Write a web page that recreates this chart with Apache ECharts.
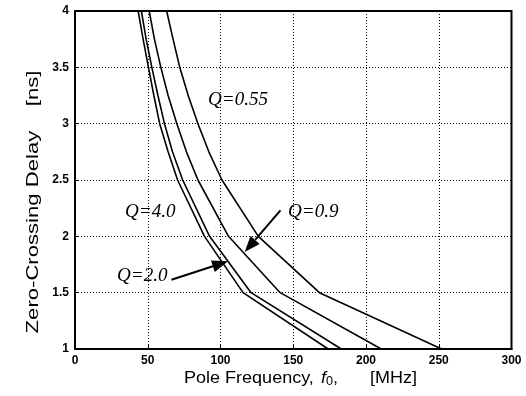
<!DOCTYPE html>
<html>
<head>
<meta charset="utf-8">
<script src="https://cdn.jsdelivr.net/npm/echarts@6/dist/echarts.min.js"></script>
<style>
html,body{margin:0;padding:0;background:#fff;}
#chart{width:526px;height:396px;}
</style>
</head>
<body>
<div id="chart"></div>
<script>
// Delay levels (ns) at which each curve's pole frequency was read
var delayLevels = [4, 3.75, 3.5, 3.25, 3, 2.75, 2.5, 2, 1.5, 1];
// Pole frequency (MHz) for each Q at those delays
var freqQ055 = [63, 67.4, 72, 77.8, 84.5, 92, 101, 126, 168, 252];
var freqQ09  = [51, 54.6, 59, 64, 70, 76.6, 84.5, 105.5, 141, 210.5];
var freqQ20  = [45.6, 48.9, 52.8, 57, 61.5, 67, 74, 92.5, 121, 183];
var freqQ40  = [43.4, 46.8, 50.5, 54.2, 58.2, 64, 70.5, 89, 115.5, 174];
var seriesNames = ['Q=0.55', 'Q=0.9', 'Q=2.0', 'Q=4.0'];
var xTicks = [0, 50, 100, 150, 200, 250, 300];
var yTicks = [1, 1.5, 2, 2.5, 3, 3.5, 4];
// Annotation arrows: [from, tip] in data units
var arrowQ09 = [[141.2, 2.23], [116.6, 1.86]];
var arrowQ20 = [[66.3, 1.615], [105.2, 1.778]];

function pairs(xs) {
  return xs.map(function (x, i) { return [x, delayLevels[i]]; });
}

var chart = echarts.init(document.getElementById('chart'), null, {renderer: 'canvas'});
var allFreq = [freqQ055, freqQ09, freqQ20, freqQ40];

var axisCommon = {
  type: 'value',
  axisLine: {show: true, lineStyle: {color: '#000', width: 2}},
  axisTick: {show: true, inside: true, length: 4, lineStyle: {color: '#000', width: 1}},
  splitLine: {show: true, lineStyle: {color: '#000', width: 1, type: [1, 2]}},
  axisLabel: {color: '#000', fontFamily: 'Liberation Sans', fontWeight: 'bold', fontSize: 12}
};

chart.setOption({
  animation: false,
  backgroundColor: '#fff',
  grid: {left: 75, top: 11, right: 14.5, bottom: 47, show: true, borderColor: '#000', borderWidth: 2, backgroundColor: 'transparent'},
  xAxis: Object.assign({}, axisCommon, {
    min: xTicks[0], max: xTicks[xTicks.length - 1], interval: xTicks[1] - xTicks[0],
    axisLabel: Object.assign({}, axisCommon.axisLabel, {margin: 6})
  }),
  yAxis: Object.assign({}, axisCommon, {
    min: yTicks[0], max: yTicks[yTicks.length - 1], interval: yTicks[1] - yTicks[0],
    axisLabel: Object.assign({}, axisCommon.axisLabel, {margin: 6})
  }),
  series: allFreq.map(function (f, i) {
    return {
      name: seriesNames[i], type: 'line', data: pairs(f), symbol: 'none', smooth: false,
      lineStyle: {color: '#000', width: 1.6}, clip: true
    };
  })
});

function arrowGraphics(ar) {
  var a = chart.convertToPixel({gridIndex: 0}, ar[0]);
  var b = chart.convertToPixel({gridIndex: 0}, ar[1]);
  var dx = b[0] - a[0], dy = b[1] - a[1];
  var len = Math.sqrt(dx * dx + dy * dy);
  var ux = dx / len, uy = dy / len;
  var hl = 16, hw = 6;
  var bx = b[0] - ux * hl, by = b[1] - uy * hl;
  return [
    {type: 'line', shape: {x1: a[0], y1: a[1], x2: bx, y2: by}, style: {stroke: '#000', lineWidth: 2}, z: 10},
    {type: 'polygon', shape: {points: [[b[0], b[1]], [bx - uy * hw, by + ux * hw], [bx + uy * hw, by - ux * hw]]}, style: {fill: '#000'}, z: 10}
  ];
}

var qFont = 'italic 18px "Liberation Serif"';
function qText(txt, x, y) {
  return {type: 'text', x: x, y: y, scaleX: 1.06, style: {text: txt, font: qFont, fill: '#000', textAlign: 'left', textVerticalAlign: 'middle'}, z: 11};
}
var titleFont = '17px "Liberation Sans"';

var g = [];
g = g.concat(arrowGraphics(arrowQ09), arrowGraphics(arrowQ20));
g.push(qText(seriesNames[0], 208, 100));
g.push(qText(seriesNames[1], 288, 212));
g.push(qText(seriesNames[3], 125, 212));
g.push(qText(seriesNames[2], 117, 276));
// x-axis title
g.push({type: 'text', x: 184, y: 378, scaleX: 1.06, style: {text: 'Pole Frequency,', font: titleFont, fill: '#000', textAlign: 'left', textVerticalAlign: 'middle'}});
g.push({type: 'text', x: 321, y: 378, scaleX: 1.06, style: {
  text: '{i|f}{s|0},', fill: '#000', textAlign: 'left', textVerticalAlign: 'middle', font: titleFont,
  rich: {i: {fontStyle: 'italic', fontSize: 17, fontFamily: 'Liberation Sans'}, s: {fontSize: 12, fontFamily: 'Liberation Sans', padding: [8, 0, 0, 0]}}
}});
g.push({type: 'text', x: 370, y: 378, scaleX: 1.06, style: {text: '[MHz]', font: titleFont, fill: '#000', textAlign: 'left', textVerticalAlign: 'middle'}});
// y-axis title
g.push({type: 'text', x: 33, y: 202, rotation: Math.PI / 2, scaleX: 1.3, style: {text: 'Zero-Crossing Delay    [ns]', font: '17px "Liberation Sans"', fill: '#000', textAlign: 'center', textVerticalAlign: 'middle'}});

chart.setOption({graphic: g});
</script>
</body>
</html>
